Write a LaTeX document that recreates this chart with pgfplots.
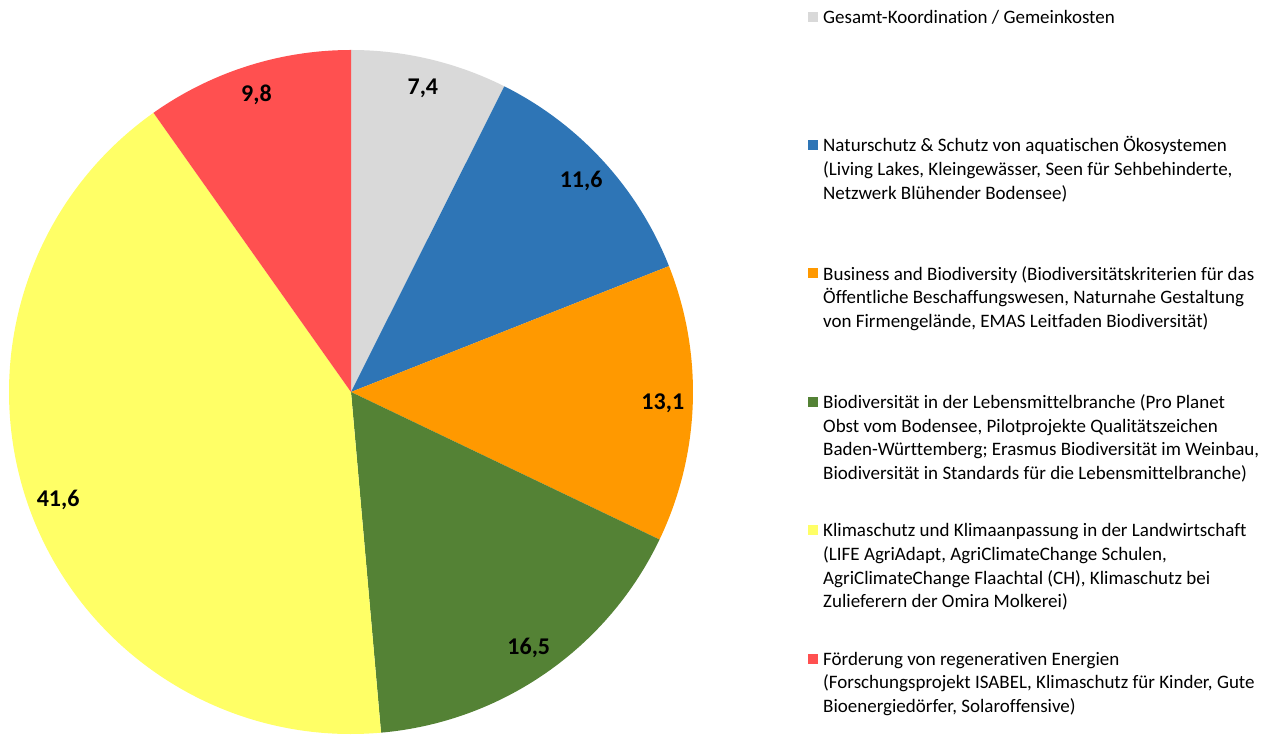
\documentclass[border=0pt]{standalone}
\usepackage{pgfplots}
\usepackage{pgfplotstable}
\pgfplotsset{compat=1.18}
\usepackage{fontspec}
\setmainfont{Carlito}[Ligatures=NoCommon]
\definecolor{cgray}{HTML}{D9D9D9}
\definecolor{cblue}{HTML}{2E75B6}
\definecolor{corange}{HTML}{FF9900}
\definecolor{cgreen}{HTML}{548235}
\definecolor{cyellow}{HTML}{FFFF66}
\definecolor{cred}{HTML}{FF5050}
\pgfplotstableread{
value colour
7.4 cgray
11.6 cblue
13.1 corange
16.5 cgreen
41.6 cyellow
9.8 cred
}\piedata
\newcommand{\legtext}[1]{\ifcase#1
Gesamt-Koordination / Gemeinkosten\or
Naturschutz \& Schutz von aquatischen Ökosystemen\\(Living Lakes, Kleingewässer, Seen für Sehbehinderte,\\Netzwerk Blühender Bodensee)\or
Business and Biodiversity (Biodiversitätskriterien für das\\Öffentliche Beschaffungswesen, Naturnahe Gestaltung\\von Firmengelände, EMAS Leitfaden Biodiversität)\or
Biodiversität in der Lebensmittelbranche (Pro Planet\\Obst vom Bodensee, Pilotprojekte Qualitätszeichen\\Baden-Württemberg; Erasmus Biodiversität im Weinbau,\\Biodiversität in Standards für die Lebensmittelbranche)\or
Klimaschutz und Klimaanpassung in der Landwirtschaft\\(LIFE AgriAdapt, AgriClimateChange Schulen,\\AgriClimateChange Flaachtal (CH), Klimaschutz bei\\Zulieferern der Omira Molkerei)\or
Förderung von regenerativen Energien\\(Forschungsprojekt ISABEL, Klimaschutz für Kinder, Gute\\Bioenergiedörfer, Solaroffensive)\fi}
\begin{document}
\begin{tikzpicture}
\useasboundingbox (0,0) rectangle (1280pt,735pt);
\begin{axis}[
  at={(0,0)}, anchor=south west,
  scale only axis, width=1280pt, height=735pt,
  xmin=0, xmax=1280, ymin=0, ymax=735,
  hide axis, clip=false]
\pgfplotsextra{
  \gdef\cum{0}
  \pgfplotstablegetrowsof{\piedata}
  \pgfmathtruncatemacro\nrows{\pgfplotsretval-1}
  \foreach \i in {0,...,\nrows}{
    \pgfplotstablegetelem{\i}{value}\of\piedata \let\v\pgfplotsretval
    \pgfplotstablegetelem{\i}{colour}\of\piedata \let\c\pgfplotsretval
    \pgfmathsetmacro\aS{90-3.6*\cum}
    \pgfmathsetmacro\aE{90-3.6*(\cum+\v)}
    \pgfmathsetmacro\aM{(\aS+\aE)/2}
    \fill[\c] (axis cs:351,343) -- ++(\aS:342pt) arc[start angle=\aS, end angle=\aE, radius=342pt] -- cycle;
    \path (axis cs:351,343) ++(\aM:312pt) node[font=\fontsize{24}{28}\selectfont\bfseries]
      {\pgfmathprintnumber[fixed, precision=1, fixed zerofill, use comma, assume math mode=true]{\v}};
    \pgfmathsetmacro\bl{735-23.3-128.4*\i}
    \fill[\c] (axis cs:808,\bl+1.6) rectangle (axis cs:818,\bl+11.6);
    \node[anchor=base west, inner sep=0pt] at (axis cs:823,\bl)
      {\parbox[t]{460pt}{\fontsize{19}{23.7}\selectfont\raggedright\legtext{\i}}};
    \pgfmathsetmacro\newcum{\cum+\v}
    \xdef\cum{\newcum}
  }
}
\end{axis}
\end{tikzpicture}
\end{document}
